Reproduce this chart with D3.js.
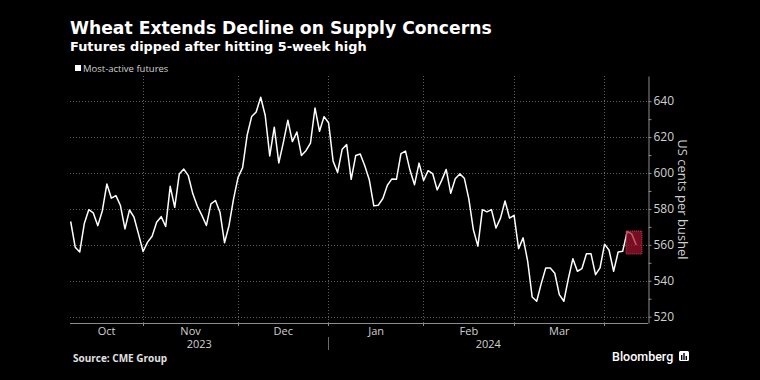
<!DOCTYPE html>
<html>
<head>
<meta charset="utf-8">
<script src="https://cdn.jsdelivr.net/npm/d3@7"></script>
<style>
  body { margin: 0; background: #000; }
  svg { display: block; }
</style>
</head>
<body>
<svg id="chart"></svg>
<script>
// wheat futures, one value per trading day (US cents per bushel)
const prices = [
  573, 558.7, 556, 571.7, 579.6, 577.8, 570.7, 579, 593.9, 586,
  587.4, 581.9, 568.9, 579.4, 575.4, 566, 556.3, 561.5, 564.8, 572.6,
  575.7, 570.2, 592.6, 580.9, 599.4, 602.2, 598.5, 588.4, 581.5, 576.4,
  570.8, 582.8, 584.7, 578.2, 561.2, 570.8, 585.6, 597.6, 603, 621,
  631.4, 634, 642.2, 632, 609.5, 625.5, 605.6, 616.9, 629.4, 617.5,
  622.8, 609.8, 612.4, 616.6, 636.2, 623.2, 631.4, 628, 606.6, 600.3,
  613.2, 615.8, 596.5, 609.7, 610.6, 604, 596.2, 581.7, 582.1, 585.8,
  593.2, 596.7, 596.5, 610.8, 612.2, 601.5, 593.5, 605.5, 595.8, 601.3,
  599.7, 590.6, 595.9, 602, 588.7, 596.8, 599.5, 597.1, 585.6, 568.5,
  559.3, 579.6, 578.4, 579.6, 569.4, 574.9, 584.4, 574.9, 576.4, 557.9,
  563.9, 551, 531, 528.6, 538.4, 547.1, 547.1, 544.2, 532.3, 528.6,
  541.2, 552.3, 545.3, 546.8, 555.1, 555.1, 543.4, 547.2, 560.4, 557,
  545.3, 556, 556.4, 567.4, 566.1, 559.9
];
// index of the first trading day of each month (Nov .. Apr)
const monthStarts = [16, 37, 57, 78, 98, 118];
const monthLabels = ["Oct", "Nov", "Dec", "Jan", "Feb", "Mar"];
const yearLabels = ["2023", "2024"];
const yearBreak = 57;
const yTicks = [520, 540, 560, 580, 600, 620, 640];
const highlightCount = 3;

const width = 760, height = 380;
const margin = {top: 76, right: 112, bottom: 57, left: 70};

const svg = d3.select("#chart")
  .attr("width", width)
  .attr("height", height)
  .style("background", "#000");

const x = d3.scaleLinear()
  .domain([-0.15, 127.6])
  .range([margin.left, width - margin.right]);

const y = d3.scaleLinear()
  .domain([516.5, 654])
  .range([height - margin.bottom, margin.top]);

const [x0, x1] = x.range();
const [yb, yt] = y.range();

// gridlines
svg.append("g")
  .selectAll("line")
  .data(yTicks)
  .join("line")
    .attr("x1", x0).attr("x2", x1)
    .attr("y1", d => Math.round(y(d)) + 0.5)
    .attr("y2", d => Math.round(y(d)) + 0.5)
    .attr("stroke", "#5c5c5c")
    .attr("stroke-dasharray", "1,2");

svg.append("g")
  .selectAll("line")
  .data(monthStarts)
  .join("line")
    .attr("x1", d => Math.round(x(d - 0.1)) + 0.5)
    .attr("x2", d => Math.round(x(d - 0.1)) + 0.5)
    .attr("y1", yt).attr("y2", yb)
    .attr("stroke", "#5c5c5c")
    .attr("stroke-dasharray", "1,2");

// bottom axis line and month ticks
svg.append("line")
  .attr("x1", x0).attr("x2", x1)
  .attr("y1", yb + 0.5).attr("y2", yb + 0.5)
  .attr("stroke", "#8c8c8c");

svg.append("g")
  .selectAll("line")
  .data(monthStarts)
  .join("line")
    .attr("x1", d => Math.round(x(d - 0.1)) + 0.5)
    .attr("x2", d => Math.round(x(d - 0.1)) + 0.5)
    .attr("y1", yb).attr("y2", yb + 3)
    .attr("stroke", "#8c8c8c");

// month labels centred in each month span
const bounds = [x.domain()[0], ...monthStarts];
svg.append("g")
  .selectAll("text")
  .data(monthLabels)
  .join("text")
    .attr("x", (d, i) => (x(bounds[i]) + x(bounds[i + 1])) / 2)
    .attr("y", yb + 12)
    .attr("text-anchor", "middle")
    .attr("fill", "#d0d0d0")
    .style("font", "11px 'Open Sans'")
    .text(d => d);

const yearSpans = [[x.domain()[0], yearBreak], [yearBreak, x.domain()[1]]];
svg.append("g")
  .selectAll("text")
  .data(yearLabels)
  .join("text")
    .attr("x", (d, i) => (x(yearSpans[i][0]) + x(yearSpans[i][1])) / 2)
    .attr("y", yb + 25)
    .attr("text-anchor", "middle")
    .attr("fill", "#d0d0d0")
    .style("font", "11px 'Open Sans'")
    .text(d => d);

svg.append("line")
  .attr("x1", Math.round(x(yearBreak - 0.1)) + 0.5)
  .attr("x2", Math.round(x(yearBreak - 0.1)) + 0.5)
  .attr("y1", yb + 14).attr("y2", yb + 27)
  .attr("stroke", "#6a6a6a");

// right axis
const yAxis = svg.append("g")
  .attr("transform", `translate(${x1 + 0.5},0)`)
  .call(d3.axisRight(y)
    .tickValues(d3.range(520, 650, 10))
    .tickSize(3)
    .tickSizeOuter(0)
    .tickPadding(2)
    .tickFormat(d => yTicks.includes(d) ? d : ""));

yAxis.select(".domain").attr("stroke", "#8c8c8c");
yAxis.selectAll(".tick line").attr("stroke", "#8c8c8c");
yAxis.selectAll(".tick text")
  .attr("fill", "#d0d0d0")
  .style("font", "12px 'Open Sans'");

svg.append("text")
  .attr("transform", `translate(${x1 + 30},${(yt + yb) / 2}) rotate(90)`)
  .attr("text-anchor", "middle")
  .attr("fill", "#d0d0d0")
  .style("font", "13px 'Open Sans'")
  .text("US cents per bushel");

// price line
const line = d3.line()
  .x((d, i) => x(i))
  .y(d => y(d));

svg.append("path")
  .datum(prices)
  .attr("fill", "none")
  .attr("stroke", "#fff")
  .attr("stroke-width", 1.5)
  .attr("stroke-linejoin", "round")
  .attr("d", line);

// highlight of the latest sessions
const last = prices.slice(-highlightCount);
const hiStart = prices.length - highlightCount;
svg.append("rect")
  .attr("x", x(hiStart - 0.25))
  .attr("width", x(prices.length - 1 + 1.25) - x(hiStart - 0.25))
  .attr("y", y(d3.max(last)) - 0.5)
  .attr("height", y(d3.min(last) - 5) - y(d3.max(last)) + 0.5)
  .attr("fill", "#a8122f")
  .attr("fill-opacity", 0.7)
  .attr("stroke", "#c8405c")
  .attr("stroke-dasharray", "1,1");

// titles
svg.append("text")
  .attr("x", 70).attr("y", 34)
  .attr("fill", "#fff")
  .style("font", "bold 17.2px 'DejaVu Sans'")
  .text("Wheat Extends Decline on Supply Concerns");

svg.append("text")
  .attr("x", 70).attr("y", 51)
  .attr("fill", "#fff")
  .style("font", "bold 12.9px 'DejaVu Sans'")
  .text("Futures dipped after hitting 5-week high");

svg.append("rect")
  .attr("x", 75).attr("y", 65)
  .attr("width", 6).attr("height", 6)
  .attr("fill", "#fff");

svg.append("text")
  .attr("x", 83).attr("y", 71.5)
  .attr("fill", "#d0d0d0")
  .style("font", "9.5px 'Open Sans'")
  .text("Most-active futures");

// footer
svg.append("text")
  .attr("x", 73).attr("y", 361.5)
  .attr("fill", "#e0e0e0")
  .style("font", "bold 10px 'Open Sans'")
  .text("Source: CME Group");

svg.append("text")
  .attr("x", 612).attr("y", 361)
  .attr("fill", "#fff")
  .style("font", "500 12.5px Roboto")
  .text("Bloomberg");

const logo = svg.append("g").attr("transform", "translate(679,351)");
logo.append("rect")
  .attr("width", 10).attr("height", 10).attr("rx", 1.5)
  .attr("fill", "#fff");
logo.selectAll(".bar")
  .data([[2, 4, 5], [4.3, 2, 7], [6.6, 5, 4]])
  .join("rect")
    .attr("x", d => d[0]).attr("y", d => d[1])
    .attr("width", 1.4).attr("height", d => d[2])
    .attr("fill", "#000");
</script>
</body>
</html>
